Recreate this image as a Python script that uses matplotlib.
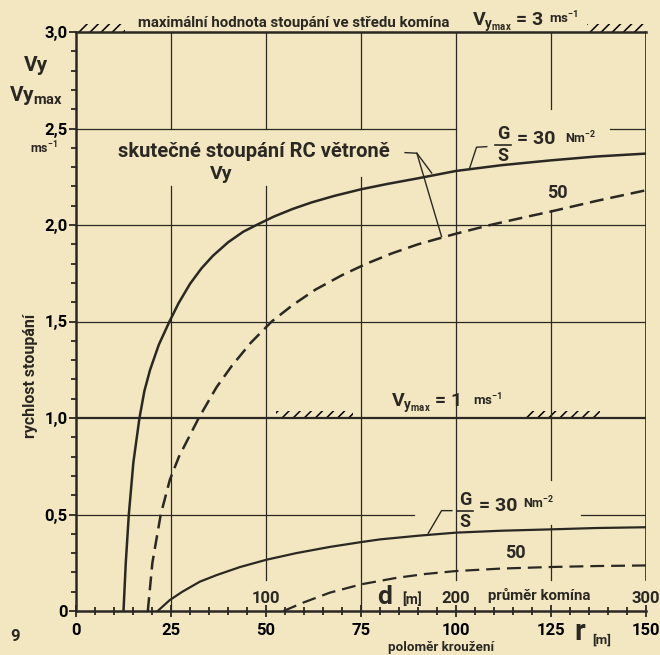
import numpy as np
import matplotlib
matplotlib.use("Agg")
import matplotlib.pyplot as plt
from matplotlib.patches import Rectangle

## Data (r = polomer krouzeni in m, v = stoupani in m/s)
# Vymax = 3 m/s, G/S = 30 N/m2
r_30_hi = [12.5, 13.1, 13.9, 15.1, 16.7, 18.0, 19.5, 21.8, 24.6, 27.0, 30.0, 33.0, 36.0,
           40.0, 44.0, 47.5, 52.0, 57.0, 62.0, 68.0, 75.0, 82.0, 90.0, 100.0, 112.0,
           125.0, 137.0, 150.0]
v_30_hi = [0.0, 0.25, 0.50, 0.77, 1.00, 1.14, 1.25, 1.38, 1.50, 1.595, 1.695, 1.775,
           1.84, 1.91, 1.965, 2.0, 2.043, 2.083, 2.117, 2.151, 2.185, 2.213, 2.242, 2.28,
           2.31, 2.335, 2.355, 2.37]
# Vymax = 3 m/s, G/S = 50 N/m2
r_50_hi = [18.9, 20.1, 22.3, 24.7, 27.1, 32.3, 37.0, 41.0, 46.0, 51.5, 57.0, 63.0, 70.0,
           76.5, 83.0, 90.0, 100.0, 109.0, 118.0, 125.0, 137.0, 150.0]
v_50_hi = [0.0, 0.25, 0.50, 0.68, 0.80, 1.00, 1.16, 1.27, 1.39, 1.50, 1.585, 1.665, 1.74,
           1.80, 1.852, 1.90, 1.955, 2.0, 2.04, 2.07, 2.125, 2.18]
# Vymax = 1 m/s, G/S = 30 N/m2
r_30_lo = [21.5, 24.7, 28.0, 32.6, 37.0, 43.2, 50.2, 58.0, 66.8, 75.0, 80.0, 90.0, 100.0,
           112.0, 125.0, 137.0, 150.0]
v_30_lo = [0.0, 0.057, 0.10, 0.152, 0.186, 0.228, 0.266, 0.30, 0.332, 0.357, 0.371, 0.39,
           0.406, 0.416, 0.423, 0.43, 0.434]
# Vymax = 1 m/s, G/S = 50 N/m2
r_50_lo = [54.6, 60.0, 66.8, 75.0, 84.4, 92.0, 100.0, 112.0, 125.0, 137.0, 150.0]
v_50_lo = [0.0, 0.045, 0.095, 0.138, 0.172, 0.192, 0.207, 0.22, 0.228, 0.233, 0.236]

x_ticks = [0, 25, 50, 75, 100, 125, 150]
x_labels = ["0", "25", "50", "75", "100", "125", "150"]
y_ticks = [0, 0.5, 1.0, 1.5, 2.0, 2.5, 3.0]
y_labels = ["0", "0,5", "1,0", "1,5", "2,0", "2,5", "3,0"]
d_ticks = [50, 100, 150]           # r positions of the diameter scale
d_labels = ["100", "200", "300"]

## Style
ink = "#2b2823"
paper = "#f2e7c1"
plt.rcParams["font.family"] = ["Roboto", "DejaVu Sans"]
plt.rcParams["font.weight"] = "bold"
plt.rcParams["mathtext.fontset"] = "custom"
plt.rcParams["mathtext.rm"] = "Roboto:bold"
plt.rcParams["mathtext.it"] = "Roboto:bold"
plt.rcParams["mathtext.bf"] = "Roboto:bold"
plt.rcParams["hatch.color"] = ink
plt.rcParams["hatch.linewidth"] = 1.1
plt.rcParams["lines.scale_dashes"] = False
plt.rcParams["text.color"] = ink

fig = plt.figure(figsize=(6.6, 6.55), dpi=100, facecolor=paper)
ax = fig.add_axes([76/660, 44/655, 570/660, 579/655])
ax.set_facecolor(paper)
ax.set_xlim(0, 150)
ax.set_ylim(0, 3)

for s in ["right", "top"]:
    ax.spines[s].set_visible(False)
for s in ["left", "bottom"]:
    ax.spines[s].set_linewidth(1.8)
    ax.spines[s].set_color(ink)

ax.set_xticks(x_ticks)
ax.set_xticklabels(x_labels)
ax.set_xticks(np.arange(0, 151, 5), minor=True)
ax.set_yticks(y_ticks)
ax.set_yticklabels(y_labels)
ax.set_yticks(np.arange(0, 3.01, 0.1), minor=True)
ax.tick_params(axis="x", which="both", direction="inout", color=ink, width=1.3)
ax.tick_params(axis="x", which="major", length=8, pad=4.5, labelsize=12)
ax.tick_params(axis="x", which="minor", length=6)
ax.tick_params(axis="y", which="both", direction="out", color=ink, width=1.3)
ax.tick_params(axis="y", which="major", length=5, pad=1, labelsize=12)
ax.tick_params(axis="y", which="minor", length=3.5)

## Grid, drawn in pieces with gaps for the lettering
v_grid = [(25, 0, 2.2), (25, 2.5, 3), (50, 0.16, 2.2), (50, 2.5, 3), (75, 0, 2.25),
          (75, 2.5, 3), (100, 0.16, 3), (125, 0.16, 0.445), (125, 0.68, 2.08),
          (125, 2.6, 3), (150, 0.16, 3)]
h_grid = [(0.5, 0, 89), (0.5, 133, 150), (1.5, 0, 150), (2.0, 0, 150),
          (2.5, 0, 100), (2.5, 140.5, 150)]
for x, y0, y1 in v_grid:
    ax.plot([x, x], [y0, y1], color=ink, lw=0.9 if x < 150 else 1.2)
for y, x0, x1 in h_grid:
    ax.plot([x0, x1], [y, y], color=ink, lw=0.9)
ax.plot([0, 150], [1, 1], color=ink, lw=1.6)
ax.plot([0, 150], [3, 3], color=ink, lw=1.8, clip_on=False)

# hatching (boundary marks)
for x0, x1, y, h in [(0.5, 13, 3.0, 0.042), (134.5, 150, 3.0, 0.042),
                     (52.6, 73, 1.0, 0.036), (118, 138, 1.0, 0.036)]:
    ax.add_patch(Rectangle((x0, y), x1 - x0, h, hatch="///", fill=False, lw=0,
                           clip_on=False))

## Curves
ax.plot(r_30_hi, v_30_hi, color=ink, lw=1.8)
ax.plot(r_50_hi, v_50_hi, color=ink, lw=1.8, dashes=(10, 5))
ax.plot(r_30_lo, v_30_lo, color=ink, lw=1.6)
ax.plot(r_50_lo, v_50_lo, color=ink, lw=1.6, dashes=(10, 5))

## Leader lines
ax.plot([86.6, 89.7, 93.6], [2.375, 2.372, 2.269], color=ink, lw=1.0)
ax.plot([89.7, 96.2], [2.372, 1.94], color=ink, lw=1.0)
ax.plot([108.1, 105.4, 103.5], [2.406, 2.403, 2.289], color=ink, lw=1.0)
ax.plot([98.9, 96.2, 92.7], [0.520, 0.520, 0.403], color=ink, lw=1.0)

## Text
small = 10.8
ax.text(57.4, 3.025, "maximální hodnota stoupání ve středu komína", ha="center",
        va="baseline", fontsize=small, clip_on=False)
ax.text(104.2, 3.03, r"$V_{y_{max}}$ = 3", ha="left", va="baseline", fontsize=14,
        clip_on=False)
ax.text(124.6, 3.045, r"ms$^{-1}$", ha="left", va="baseline", fontsize=9.5, clip_on=False)

ax.text(83.0, 1.055, r"$V_{y_{max}}$ = 1", ha="left", va="baseline", fontsize=14)
ax.text(104.5, 1.065, r"ms$^{-1}$", ha="left", va="baseline", fontsize=9.5)

ax.text(46.8, 2.35, "skutečné stoupání RC větroně", ha="center", va="baseline",
        fontsize=14.5)
ax.text(38.3, 2.24, "Vy", ha="center", va="baseline", fontsize=14)

# G/S labels, upper
ax.text(112.4, 2.425, "G", ha="center", va="bottom", fontsize=13)
ax.plot([110.3, 114.5], [2.415, 2.415], color=ink, lw=1.2)
ax.text(112.4, 2.405, "S", ha="center", va="top", fontsize=13)
ax.text(116.0, 2.446, "= 30", ha="left", va="center", fontsize=14)
ax.text(128.7, 2.41, r"Nm$^{-2}$", ha="left", va="bottom", fontsize=9)
ax.text(126.7, 2.164, "50", ha="center", va="center", fontsize=13)

# G/S labels, lower
ax.text(102.4, 0.528, "G", ha="center", va="bottom", fontsize=13)
ax.plot([100.3, 104.5], [0.518, 0.518], color=ink, lw=1.2)
ax.text(102.4, 0.508, "S", ha="center", va="top", fontsize=13)
ax.text(106.0, 0.544, "= 30", ha="left", va="center", fontsize=14)
ax.text(117.7, 0.515, r"Nm$^{-2}$", ha="left", va="bottom", fontsize=9)
ax.text(115.7, 0.299, "50", ha="center", va="center", fontsize=13)

# diameter scale along the bottom
for x, lab in zip(d_ticks, d_labels):
    ax.text(x, 0.065, lab, ha="center", va="center", fontsize=12)
ax.text(81.2, 0.035, "d", ha="center", va="baseline", fontsize=19)
ax.text(88.4, 0.035, "[m]", ha="center", va="baseline", fontsize=10)
ax.text(121.9, 0.078, "průměr komína", ha="center", va="center", fontsize=small)

# axis captions
ax.text(132.6, -0.15, "r", ha="center", va="baseline", fontsize=21, clip_on=False)
ax.text(138.4, -0.17, "[m]", ha="center", va="baseline", fontsize=9.5, clip_on=False)
ax.text(96.2, -0.19, "poloměr kroužení", ha="center", va="center", fontsize=9.6,
        clip_on=False)
ax.text(-10.5, 2.80, "Vy", ha="center", va="baseline", fontsize=15, clip_on=False)
ax.text(-10.5, 2.64, r"Vy$_{max}$", ha="center", va="baseline", fontsize=15,
        clip_on=False)
ax.text(-8.4, 2.40, r"ms$^{-1}$", ha="center", va="center", fontsize=9, clip_on=False)
ax.text(-12.0, 1.22, "rychlost stoupání", ha="center", va="center", rotation=90,
        fontsize=11.5, clip_on=False)
ax.text(-16.1, -0.13, "9", ha="center", va="center", fontsize=12, clip_on=False)

fig.savefig("out.png", dpi=100, facecolor=paper)
